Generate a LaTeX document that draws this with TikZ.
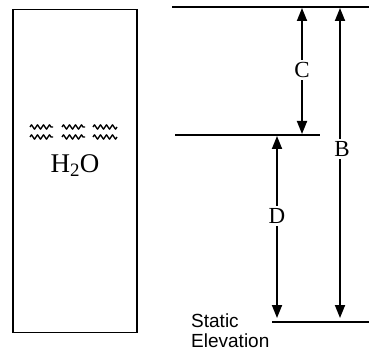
\documentclass[tikz,border=0pt]{standalone}
\usepackage{fontspec}
\setmainfont{Liberation Serif}
\newfontfamily\labsans{Liberation Sans}
\usetikzlibrary{arrows.meta,decorations.pathmorphing}
\begin{document}
\begin{tikzpicture}[x=1pt,y=-1pt,
  level/.style={line width=1.1pt},
  dim/.style={line width=1.8pt,{Triangle[length=13pt,width=10pt]}-{Triangle[length=13pt,width=10pt]}},
  wave/.style={line width=1.3pt,line join=round,decorate,decoration={zigzag,segment length=6pt,amplitude=2.2pt}},
  dimlabel/.style={fill=white,inner sep=2pt,font=\fontsize{23}{25}\selectfont},
  ]
\useasboundingbox (0,0) rectangle (369,352);
% tank
\node[draw,line width=1.4pt,minimum width=124pt,minimum height=323pt,inner sep=0pt] (tank) at (75,171) {};
% water waves
\foreach \yy in {127,137}{
  \foreach \xa/\xb in {30/53,62/85,93/117}{
    \draw[wave] (\xa,\yy) -- (\xb,\yy);
  }
}
\node[font=\fontsize{27}{29}\selectfont,inner sep=0pt] (water) at (75,166) {H\textsubscript{2}O};
% levels
\coordinate (t1) at (172,7);
\coordinate (t2) at (369,7);
\coordinate (m1) at (175,135);
\coordinate (m2) at (320,135);
\coordinate (b1) at (272,322);
\coordinate (b2) at (369,322);
\draw[level] (t1) -- (t2);
\draw[level] (m1) -- (m2);
\draw[level] (b1) -- (b2);
% dimension arrows
\coordinate (Ct) at (302,8);
\coordinate (Cb) at (302,134);
\coordinate (Bt) at (340,8);
\coordinate (Bb) at (340,318);
\coordinate (Dt) at (277,136);
\coordinate (Db) at (277,318);
\draw[dim] (Ct) -- (Cb);
\draw[dim] (Bt) -- (Bb);
\draw[dim] (Dt) -- (Db);
\node[dimlabel] (C) at (302,70) {C};
\node[dimlabel] (B) at (342,149) {B};
\node[dimlabel] (D) at (277,216) {D};
% static elevation
\node[anchor=west,align=left,inner sep=0pt,font=\labsans\fontsize{19}{20}\selectfont] (se) at (191,331) {Static\\Elevation};
\end{tikzpicture}
\end{document}
